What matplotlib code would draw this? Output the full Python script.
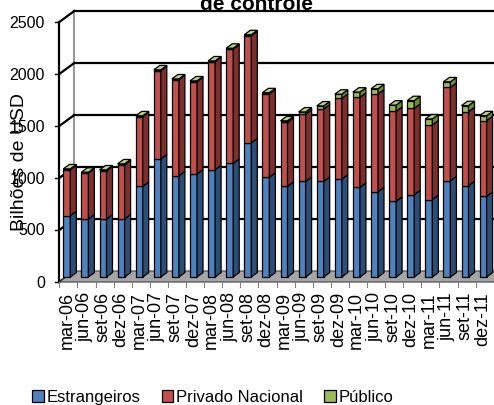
import matplotlib.pyplot as plt
from matplotlib.patches import Polygon, Patch

plt.rcParams['font.family'] = ['Liberation Sans', 'DejaVu Sans']

periodos = ['mar-06', 'jun-06', 'set-06', 'dez-06', 'mar-07', 'jun-07', 'set-07', 'dez-07',
            'mar-08', 'jun-08', 'set-08', 'dez-08', 'mar-09', 'jun-09', 'set-09', 'dez-09',
            'mar-10', 'jun-10', 'set-10', 'dez-10', 'mar-11', 'jun-11', 'set-11', 'dez-11']
estrangeiros = [590, 558, 558, 558, 872, 1135, 974, 990, 1032, 1093, 1290, 959,
                872, 920, 920, 942, 862, 820, 728, 791, 744, 926, 878, 776]
privado_nacional = [442, 442, 464, 522, 670, 849, 923, 888, 1038, 1099, 1030, 801,
                    615, 647, 695, 776, 866, 940, 865, 831, 718, 897, 712, 727]
publico = [8, 8, 8, 8, 8, 8, 8, 8, 8, 8, 10, 12,
           15, 20, 30, 40, 50, 50, 60, 74, 58, 54, 58, 48]

yticks = [0, 500, 1000, 1500, 2000, 2500]

series = [
    ('Estrangeiros', estrangeiros, '#4f81bd', '#2c4d75', '#7aa3d6'),
    ('Privado Nacional', privado_nacional, '#c0504d', '#7d2f2d', '#d98583'),
    ('Público', publico, '#9bbb59', '#6b8a33', '#b9d27f'),
]

# pixel -> data conversion (one category = 18.1 px, 500 units = 52 px)
PX = 1 / 18.1
PY = 500 / 52.0

fig = plt.figure(figsize=(4.94, 4.06), dpi=100)
ax = fig.add_axes([0, 0, 1, 1])
ax.set_xlim(-59.3 * PX, (494 - 59.3) * PX)
ax.set_ylim(-(406 - 283) * PY, 283 * PY)
ax.axis('off')

n = len(periodos)
wall_dx, wall_dy = 15 * PX, 11 * PY
x_end = n

# floor
floor = Polygon([(0, 0), (x_end, 0), (x_end + wall_dx, wall_dy), (wall_dx, wall_dy)],
                closed=True, facecolor='#a6a6a6', edgecolor='#404040', lw=0.8, zorder=1)
ax.add_patch(floor)

# walls: left wall diagonals and back wall gridlines
ax.plot([wall_dx, wall_dx], [wall_dy, yticks[-1] + wall_dy], color='#999999', lw=1.5, zorder=0.5)
for v in yticks:
    ax.plot([0, wall_dx], [v, v + wall_dy], color='black', lw=1.6, zorder=0.6)
    ax.plot([-4 * PX, 0], [v, v], color='black', lw=1.0, zorder=0.6)
    if v > 0:
        ax.plot([wall_dx, x_end + wall_dx], [v + wall_dy, v + wall_dy],
                color='black', lw=1.6, zorder=0.6)
    ax.text(-14.3 * PX, v, str(v), ha='right', va='center', fontsize=11.5)
ax.plot([0, 0], [0, yticks[-1]], color='black', lw=1.6, zorder=0.6)

# category ticks along the front floor edge
for i in range(n):
    ax.plot([i, i], [0, -5 * PY], color='#808080', lw=0.8, zorder=1)

# 3D-looking stacked columns
bar_x = [i + 4.0 * PX for i in range(n)]
bw = 7 * PX
dx, dy = 6 * PX, 4.4 * PY
base = 5 * PY

bottoms = [base] * n
for k, (name, vals, front, side, top) in enumerate(series):
    ax.bar(bar_x, vals, width=bw, bottom=bottoms, align='edge', color=front,
           edgecolor='black', lw=0.9, zorder=3)
    for i in range(n):
        x0, y0, y1 = bar_x[i] + bw, bottoms[i], bottoms[i] + vals[i]
        ax.add_patch(Polygon([(x0, y0), (x0 + dx, y0 + dy), (x0 + dx, y1 + dy), (x0, y1)],
                             closed=True, facecolor=side, edgecolor='black', lw=0.9, zorder=3))
        if k == len(series) - 1:
            xl = bar_x[i]
            ax.add_patch(Polygon([(xl, y1), (xl + bw, y1), (xl + bw + dx, y1 + dy), (xl + dx, y1 + dy)],
                                 closed=True, facecolor=top, edgecolor='black', lw=0.9, zorder=3))
    bottoms = [b + v for b, v in zip(bottoms, vals)]

for i, p in enumerate(periodos):
    ax.text(bar_x[i] + bw / 2, -9 * PY, p, rotation=90, ha='center', va='top', fontsize=13)

ax.text(-39.3 * PX, (283 - 162) * PY, 'Bilhões de USD', rotation=90,
        ha='center', va='center', fontsize=14)
ax.text((256 - 59.3) * PX, (283 - 10) * PY, 'de controle', ha='center', va='baseline',
        fontsize=15, fontweight='bold')

handles = [Patch(facecolor=s[2], edgecolor='black', lw=0.9) for s in series]
fig.legend(handles, [s[0] for s in series], loc='center left', ncol=3,
           bbox_to_anchor=(32 / 494, 8 / 406), frameon=False, fontsize=12,
           handlelength=0.7, handleheight=0.7, handletextpad=0.15,
           columnspacing=1.3, borderpad=0, borderaxespad=0)

fig.savefig('out.png', dpi=100)
